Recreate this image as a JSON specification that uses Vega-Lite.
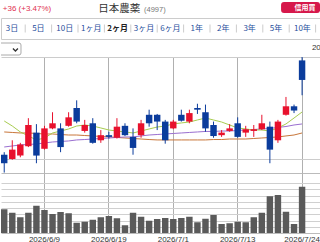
{
  "$schema": "https://vega.github.io/schema/vega-lite/v6.json",
  "background": "white",
  "padding": 0,
  "spacing": 0,
  "bounds": "flush",
  "config": {"view": {"stroke": null}, "font": "Liberation Sans"},
  "datasets": {
    "tabs": [
      {"tab": "3日"}, {"tab": "5日"}, {"tab": "10日"}, {"tab": "1ヶ月"}, {"tab": "2ヶ月"}, {"tab": "3ヶ月"},
      {"tab": "6ヶ月"}, {"tab": "1年"}, {"tab": "2年"}, {"tab": "3年"}, {"tab": "5年"}, {"tab": "10年"}
    ],
    "ohlc": [
      {"date": "2026/6/2", "open": 985, "high": 988, "low": 964, "close": 975, "volume": 190, "ma5": 1024.7, "ma25": 994.1, "ma75": 1011.8},
      {"date": "2026/6/3", "open": 980, "high": 1002, "low": 979, "close": 991, "volume": 162, "ma5": 1018.8, "ma25": 995.3, "ma75": 1011.2},
      {"date": "2026/6/4", "open": 984, "high": 999, "low": 982, "close": 997, "volume": 126, "ma5": 1011.8, "ma25": 996.5, "ma75": 1010.6},
      {"date": "2026/6/5", "open": 995, "high": 1028, "low": 994, "close": 1020, "volume": 162, "ma5": 1007.1, "ma25": 997.1, "ma75": 1010.6},
      {"date": "2026/6/8", "open": 1011, "high": 1021, "low": 975, "close": 984, "volume": 218, "ma5": 1002.4, "ma25": 997.6, "ma75": 1010.0},
      {"date": "2026/6/9", "open": 992, "high": 1019, "low": 991, "close": 1016, "volume": 184, "ma5": 1004.7, "ma25": 998.8, "ma75": 1009.4},
      {"date": "2026/6/10", "open": 1016, "high": 1035, "low": 1015, "close": 1022, "volume": 152, "ma5": 1010.6, "ma25": 1000.0, "ma75": 1009.4},
      {"date": "2026/6/11", "open": 1016, "high": 1022, "low": 988, "close": 994, "volume": 168, "ma5": 1012.9, "ma25": 1000.6, "ma75": 1008.8},
      {"date": "2026/6/12", "open": 1019, "high": 1035, "low": 1018, "close": 1029, "volume": 158, "ma5": 1015.3, "ma25": 1001.2, "ma75": 1008.2},
      {"date": "2026/6/15", "open": 1040, "high": 1049, "low": 1022, "close": 1024, "volume": 82, "ma5": 1018.8, "ma25": 1002.4, "ma75": 1008.2},
      {"date": "2026/6/16", "open": 1013, "high": 1026, "low": 1011, "close": 1020, "volume": 90, "ma5": 1020.0, "ma25": 1002.9, "ma75": 1007.6},
      {"date": "2026/6/17", "open": 1022, "high": 1028, "low": 998, "close": 999, "volume": 106, "ma5": 1018.8, "ma25": 1003.5, "ma75": 1007.1},
      {"date": "2026/6/18", "open": 1002, "high": 1014, "low": 999, "close": 1008, "volume": 126, "ma5": 1016.5, "ma25": 1004.1, "ma75": 1006.5},
      {"date": "2026/6/19", "open": 1008, "high": 1012, "low": 1004, "close": 1006, "volume": 136, "ma5": 1014.1, "ma25": 1004.7, "ma75": 1005.9},
      {"date": "2026/6/22", "open": 1005, "high": 1028, "low": 1004, "close": 1018, "volume": 118, "ma5": 1012.9, "ma25": 1005.3, "ma75": 1005.3},
      {"date": "2026/6/23", "open": 1019, "high": 1022, "low": 1007, "close": 1008, "volume": 62, "ma5": 1011.8, "ma25": 1005.9, "ma75": 1004.7},
      {"date": "2026/6/24", "open": 1006, "high": 1016, "low": 985, "close": 993, "volume": 162, "ma5": 1010.6, "ma25": 1005.9, "ma75": 1004.1},
      {"date": "2026/6/25", "open": 1008, "high": 1026, "low": 1005, "close": 1022, "volume": 130, "ma5": 1012.9, "ma25": 1007.1, "ma75": 1003.5},
      {"date": "2026/6/26", "open": 1032, "high": 1038, "low": 1018, "close": 1022, "volume": 98, "ma5": 1015.3, "ma25": 1008.2, "ma75": 1002.9},
      {"date": "2026/6/29", "open": 1032, "high": 1033, "low": 1014, "close": 1024, "volume": 112, "ma5": 1017.6, "ma25": 1008.8, "ma75": 1002.4},
      {"date": "2026/6/30", "open": 1024, "high": 1026, "low": 998, "close": 1002, "volume": 120, "ma5": 1018.8, "ma25": 1009.4, "ma75": 1002.4},
      {"date": "2026/7/1", "open": 1016, "high": 1026, "low": 1015, "close": 1024, "volume": 112, "ma5": 1021.2, "ma25": 1010.0, "ma75": 1002.4},
      {"date": "2026/7/2", "open": 1032, "high": 1038, "low": 1024, "close": 1025, "volume": 120, "ma5": 1022.4, "ma25": 1010.6, "ma75": 1002.4},
      {"date": "2026/7/3", "open": 1024, "high": 1038, "low": 1022, "close": 1034, "volume": 130, "ma5": 1023.5, "ma25": 1011.2, "ma75": 1002.4},
      {"date": "2026/7/6", "open": 1040, "high": 1045, "low": 1033, "close": 1038, "volume": 86, "ma5": 1025.9, "ma25": 1011.8, "ma75": 1002.4},
      {"date": "2026/7/7", "open": 1035, "high": 1044, "low": 1012, "close": 1016, "volume": 114, "ma5": 1028.2, "ma25": 1012.4, "ma75": 1002.4},
      {"date": "2026/7/8", "open": 1020, "high": 1024, "low": 1005, "close": 1007, "volume": 144, "ma5": 1025.9, "ma25": 1012.4, "ma75": 1002.9},
      {"date": "2026/7/9", "open": 1008, "high": 1014, "low": 1006, "close": 1011, "volume": 72, "ma5": 1023.5, "ma25": 1012.9, "ma75": 1002.9},
      {"date": "2026/7/10", "open": 1013, "high": 1021, "low": 1012, "close": 1016, "volume": 78, "ma5": 1020.0, "ma25": 1012.9, "ma75": 1003.5},
      {"date": "2026/7/13", "open": 1022, "high": 1029, "low": 1005, "close": 1006, "volume": 90, "ma5": 1016.5, "ma25": 1013.5, "ma75": 1003.5},
      {"date": "2026/7/14", "open": 1011, "high": 1019, "low": 1006, "close": 1015, "volume": 86, "ma5": 1015.3, "ma25": 1014.1, "ma75": 1003.5},
      {"date": "2026/7/15", "open": 1013, "high": 1020, "low": 1006, "close": 1015, "volume": 126, "ma5": 1014.1, "ma25": 1014.7, "ma75": 1004.1},
      {"date": "2026/7/16", "open": 1015, "high": 1032, "low": 1014, "close": 1022, "volume": 162, "ma5": 1014.1, "ma25": 1015.3, "ma75": 1004.7},
      {"date": "2026/7/17", "open": 1018, "high": 1024, "low": 975, "close": 991, "volume": 294, "ma5": 1012.9, "ma25": 1015.9, "ma75": 1005.3},
      {"date": "2026/7/21", "open": 1002, "high": 1026, "low": 999, "close": 1024, "volume": 304, "ma5": 1016.5, "ma25": 1017.1, "ma75": 1005.9},
      {"date": "2026/7/22", "open": 1032, "high": 1053, "low": 1031, "close": 1042, "volume": 170, "ma5": 1021.2, "ma25": 1018.2, "ma75": 1007.1},
      {"date": "2026/7/23", "open": 1042, "high": 1044, "low": 1034, "close": 1037, "volume": 72, "ma5": 1028.2, "ma25": 1020.0, "ma75": 1008.2},
      {"date": "2026/7/24", "open": 1096, "high": 1100, "low": 1055, "close": 1073, "volume": 370, "ma5": 1035.3, "ma25": 1021.2, "ma75": 1010.6}
    ]
  },
  "vconcat": [
    {
      "width": 320,
      "height": 18,
      "layer": [
        {
          "data": {"values": [{"label": "+36 (+3.47%)"}]},
          "mark": {"type": "text", "align": "left", "baseline": "middle", "font": "Liberation Sans", "fontSize": 8, "color": "#e03050", "dy": -0.5},
          "encoding": {
            "x": {"datum": "3日", "type": "ordinal", "bandPosition": 0.15,
                  "scale": {"type": "band", "domain": ["3日","5日","10日","1ヶ月","2ヶ月","3ヶ月","6ヶ月","1年","2年","3年","5年","10年"], "range": [-2.2, 314.6], "paddingInner": 0, "paddingOuter": 0},
                  "axis": null},
            "text": {"field": "label"}
          }
        },
        {
          "data": {"values": [{"label": "日本農薬"}]},
          "mark": {"type": "text", "align": "center", "baseline": "middle", "font": "Noto Sans CJK JP", "fontSize": 10.5, "color": "#333333"},
          "encoding": {"x": {"datum": "2ヶ月", "type": "ordinal", "bandPosition": 0.565}, "text": {"field": "label"}}
        },
        {
          "data": {"values": [{"label": "(4997)"}]},
          "mark": {"type": "text", "align": "left", "baseline": "middle", "font": "Liberation Sans", "fontSize": 7.5, "color": "#777777", "dy": 0.5},
          "encoding": {"x": {"datum": "3ヶ月", "type": "ordinal", "bandPosition": 0.5}, "text": {"field": "label"}}
        },
        {
          "data": {"values": [{"label": "信用買"}]},
          "mark": {"type": "point", "shape": "M -0.846 -0.359 L 0.846 -0.359 Q 1 -0.359 1 -0.205 L 1 0.051 Q 1 0.205 0.846 0.205 L -0.846 0.205 Q -1 0.205 -1 0.051 L -1 -0.205 Q -1 -0.359 -0.846 -0.359 Z", "size": 1521, "filled": true, "color": "#d6184b", "opacity": 1, "strokeWidth": 0},
          "encoding": {"x": {"datum": "10年", "type": "ordinal", "bandPosition": 0.43}}
        },
        {
          "data": {"values": [{"label": "信用買"}]},
          "mark": {"type": "text", "align": "center", "baseline": "middle", "font": "Noto Sans CJK JP", "fontSize": 7, "fontWeight": "bold", "color": "white", "dy": -1.5},
          "encoding": {"x": {"datum": "10年", "type": "ordinal", "bandPosition": 0.6}, "text": {"field": "label"}}
        }
      ]
    },
    {
      "width": 320,
      "height": 21,
      "view": {"stroke": "#cccccc"},
      "data": {"name": "tabs"},
      "encoding": {
        "x": {"field": "tab", "type": "ordinal", "sort": null,
              "scale": {"type": "band", "domain": ["3日","5日","10日","1ヶ月","2ヶ月","3ヶ月","6ヶ月","1年","2年","3年","5年","10年"], "range": [-2.2, 314.6], "paddingInner": 0, "paddingOuter": 0},
              "axis": null}
      },
      "layer": [
        {
          "mark": {"type": "tick", "orient": "vertical", "size": 8, "thickness": 1, "color": "#cccccc", "opacity": 1},
          "encoding": {"x": {"field": "tab", "type": "ordinal", "sort": null, "bandPosition": 1}}
        },
        {
          "transform": [{"filter": "datum.tab !== '2ヶ月'"}],
          "mark": {"type": "text", "align": "center", "baseline": "middle", "font": "Noto Sans CJK JP", "fontSize": 8, "color": "#1f4e9c"},
          "encoding": {"text": {"field": "tab"}}
        },
        {
          "transform": [{"filter": "datum.tab === '2ヶ月'"}],
          "mark": {"type": "text", "align": "center", "baseline": "middle", "font": "Noto Sans CJK JP", "fontSize": 8, "fontWeight": "bold", "color": "#222222"},
          "encoding": {"text": {"field": "tab"}}
        }
      ]
    },
    {
      "width": 320,
      "height": 18,
      "layer": [
        {
          "data": {"values": [{"label": "menu"}]},
          "mark": {"type": "point", "clip": true, "shape": "M -0.9 -0.25 L 0.9 -0.25 Q 1 -0.25 1 -0.15 L 1 0.25 Q 1 0.35 0.9 0.35 L -0.9 0.35 Q -1 0.35 -1 0.25 L -1 -0.15 Q -1 -0.25 -0.9 -0.25 Z", "size": 1600, "filled": true, "fill": "white", "stroke": "#aaaaaa", "strokeWidth": 1, "opacity": 1},
          "encoding": {
            "x": {"datum": "3日", "type": "ordinal", "bandPosition": 0.0833,
                  "scale": {"type": "band", "domain": ["3日","5日","10日","1ヶ月","2ヶ月","3ヶ月","6ヶ月","1年","2年","3年","5年","10年"], "range": [-2.2, 314.6], "paddingInner": 0, "paddingOuter": 0},
                  "axis": null}
          }
        },
        {
          "data": {"values": [{"label": "menu"}]},
          "mark": {"type": "point", "shape": "M -1 0.2 L 0 1.2 L 1 0.2", "size": 25, "filled": false, "stroke": "#333333", "strokeWidth": 1.3, "opacity": 1},
          "encoding": {"x": {"datum": "3日", "type": "ordinal", "bandPosition": 0.63}}
        },
        {
          "data": {"values": [{"label": "2026/07/24"}]},
          "mark": {"type": "text", "align": "left", "baseline": "middle", "font": "Liberation Sans", "fontSize": 8, "color": "#333333"},
          "encoding": {"x": {"datum": "10年", "type": "ordinal", "bandPosition": 0.86}, "text": {"field": "label"}}
        }
      ]
    },
    {
      "width": 320,
      "height": 116,
      "data": {"name": "ohlc"},
      "encoding": {
        "x": {"field": "date", "type": "ordinal", "sort": null,
              "scale": {"paddingInner": 0.2, "paddingOuter": 0.975, "align": 0},
              "axis": {"values": ["2026/6/9", "2026/6/19", "2026/7/1", "2026/7/13", "2026/7/24"], "bandPosition": 0.5, "labels": false, "ticks": false, "tickSize": 0, "domain": true, "domainColor": "#bbbbbb", "grid": true, "gridColor": "#b0b0b0", "title": null}}
      },
      "layer": [
        {
          "mark": {"type": "line", "color": "#c8763a", "strokeWidth": 1},
          "encoding": {
            "y": {"field": "ma75", "type": "quantitative",
                  "scale": {"domain": [963.5, 1100], "nice": false, "zero": false},
                  "axis": {"orient": "right", "values": [980, 1000, 1020, 1040, 1060, 1080, 1100], "labels": false, "ticks": false, "domain": false, "grid": true, "gridColor": "#cccccc", "title": null}}
          }
        },
        {
          "mark": {"type": "line", "color": "#9a6fd0", "strokeWidth": 1},
          "encoding": {"y": {"field": "ma25", "type": "quantitative"}}
        },
        {
          "mark": {"type": "line", "color": "#a8cc50", "strokeWidth": 1},
          "encoding": {"y": {"field": "ma5", "type": "quantitative"}}
        },
        {
          "mark": {"type": "rule", "strokeWidth": 1},
          "encoding": {
            "y": {"field": "low", "type": "quantitative"},
            "y2": {"field": "high"},
            "color": {"condition": {"test": "datum.close >= datum.open", "value": "#e8112d"}, "value": "#0b3c9c"}
          }
        },
        {
          "mark": {"type": "bar"},
          "encoding": {
            "y": {"field": "open", "type": "quantitative"},
            "y2": {"field": "close"},
            "color": {"condition": {"test": "datum.close >= datum.open", "value": "#e8112d"}, "value": "#0b3c9c"}
          }
        }
      ]
    },
    {
      "width": 320,
      "height": 60,
      "data": {"name": "ohlc"},
      "mark": {"type": "bar", "color": "#5a5a5a"},
      "encoding": {
        "x": {"field": "date", "type": "ordinal", "sort": null,
              "scale": {"paddingInner": 0.2, "paddingOuter": 0.975, "align": 0},
              "axis": {"values": ["2026/6/9", "2026/6/19", "2026/7/1", "2026/7/13", "2026/7/24"], "bandPosition": 0.5, "labelAngle": 0, "labelOverlap": false, "labelFont": "Liberation Sans", "labelFontSize": 8, "labelColor": "#333333", "labelPadding": 2, "ticks": false, "tickSize": 0, "domain": true, "domainColor": "#bbbbbb", "grid": true, "gridColor": "#b0b0b0", "title": null}},
        "y": {"field": "volume", "type": "quantitative",
              "scale": {"domain": [0, 480], "nice": false},
              "axis": {"values": [50, 100, 150, 200, 250, 300, 350, 400], "labels": false, "ticks": false, "domain": false, "grid": true, "gridColor": "#d0d0d0", "title": null}}
      }
    }
  ]
}
